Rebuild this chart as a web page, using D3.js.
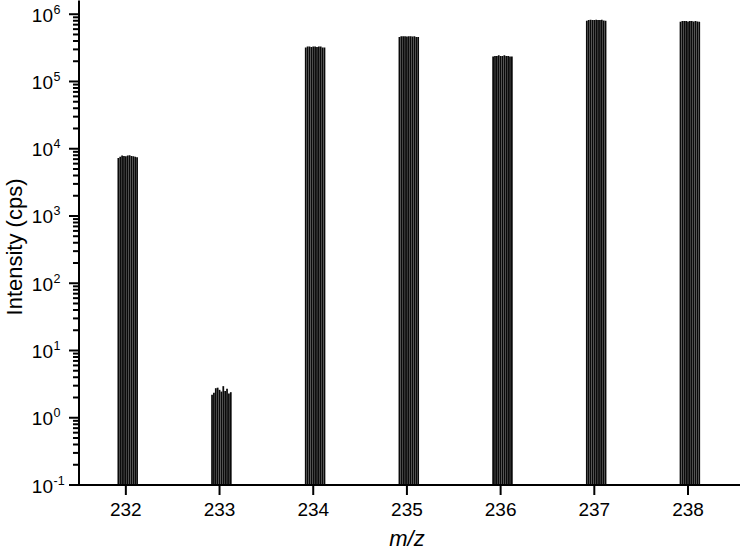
<!DOCTYPE html>
<html>
<head>
<meta charset="utf-8">
<script src="https://cdn.jsdelivr.net/npm/d3@7"></script>
<style>
body { margin: 0; background: #fff; }
svg text { font-family: "Liberation Sans", Arial, sans-serif; fill: #000; }
</style>
</head>
<body>
<svg id="chart" width="740" height="550"></svg>
<script>
// nominal masses of the clusters
var masses = [232, 233, 234, 235, 236, 237, 238];
// m/z offset of each scan line within a cluster
var offsets = [-0.08, -0.06, -0.04, -0.02, 0, 0.02, 0.04, 0.06, 0.08, 0.10, 0.12];
// intensity (cps) of every scan line, one array per mass
var peak232 = [7300, 7600, 7900, 7800, 7700, 7900, 8000, 7800, 7700, 7600, 7500];
var peak233 = [2.2, 2.35, 2.75, 2.8, 2.6, 2.45, 2.95, 2.5, 2.7, 2.3, 2.4];
var peak234 = [3.2e5, 3.3e5, 3.3e5, 3.25e5, 3.3e5, 3.3e5, 3.25e5, 3.3e5, 3.3e5, 3.2e5, 3.2e5];
var peak235 = [4.6e5, 4.7e5, 4.7e5, 4.7e5, 4.65e5, 4.7e5, 4.7e5, 4.65e5, 4.7e5, 4.6e5, 4.6e5];
var peak236 = [2.35e5, 2.4e5, 2.4e5, 2.45e5, 2.4e5, 2.4e5, 2.45e5, 2.4e5, 2.4e5, 2.35e5, 2.35e5];
var peak237 = [8.0e5, 8.2e5, 8.3e5, 8.2e5, 8.2e5, 8.3e5, 8.2e5, 8.2e5, 8.3e5, 8.1e5, 8.0e5];
var peak238 = [7.7e5, 7.9e5, 7.9e5, 7.9e5, 7.8e5, 7.9e5, 7.9e5, 7.8e5, 7.9e5, 7.8e5, 7.7e5];
var peaks = [peak232, peak233, peak234, peak235, peak236, peak237, peak238];
var yExponents = [-1, 0, 1, 2, 3, 4, 5, 6];

var svg = d3.select('#chart');
var plotLeft = 79, plotBottom = 485, plotRight = 740, plotTop = 0.5;

var x = d3.scaleLinear().domain([231.5, 238.555]).range([plotLeft, plotRight]);
var y = d3.scaleLog().domain([0.1, 1.6e6]).range([plotBottom, plotTop]);

// scan lines
var lines = [];
peaks.forEach(function(p, i){
	p.forEach(function(v, j){
		lines.push({mz: masses[i] + offsets[j], val: v});
	});
});

svg.append('g').selectAll('line').data(lines).enter().append('line')
	.attr('x1', function(d){ return x(d.mz); })
	.attr('x2', function(d){ return x(d.mz); })
	.attr('y1', y(0.1))
	.attr('y2', function(d){ return y(d.val); })
	.attr('stroke', '#0a0a0a')
	.attr('stroke-width', 1.75);

// y axis, major and minor ticks
var minor = [];
for(var e=-1; e<7; e++){
	for(var k=2; k<10; k++){
		var v = k*Math.pow(10, e);
		if(v < 1.6e6) minor.push(v);
	}
}
var yAxisG = svg.append('g');
yAxisG.append('line')
	.attr('x1', plotLeft).attr('x2', plotLeft)
	.attr('y1', plotTop).attr('y2', plotBottom + 1)
	.attr('stroke', '#000').attr('stroke-width', 2);
yAxisG.selectAll('line.minor').data(minor).enter().append('line')
	.attr('class', 'minor')
	.attr('x1', plotLeft - 6).attr('x2', plotLeft)
	.attr('y1', function(d){ return y(d); })
	.attr('y2', function(d){ return y(d); })
	.attr('stroke', '#000').attr('stroke-width', 2);
yAxisG.selectAll('line.major').data(yExponents).enter().append('line')
	.attr('class', 'major')
	.attr('x1', plotLeft - 10).attr('x2', plotLeft)
	.attr('y1', function(d){ return y(Math.pow(10, d)); })
	.attr('y2', function(d){ return y(Math.pow(10, d)); })
	.attr('stroke', '#000').attr('stroke-width', 2);
yAxisG.selectAll('text.base').data(yExponents).enter().append('text')
	.attr('class', 'base')
	.attr('x', 53)
	.attr('y', function(d){ return y(Math.pow(10, d)) + 7.5; })
	.attr('text-anchor', 'end')
	.style('font-size', '19px')
	.text('10');
yAxisG.selectAll('text.exp').data(yExponents).enter().append('text')
	.attr('class', 'exp')
	.attr('x', 53.5)
	.attr('y', function(d){ return y(Math.pow(10, d)) - 0.5; })
	.style('font-size', '12.5px')
	.text(function(d){ return d; });

// x axis
var xAxisG = svg.append('g');
xAxisG.append('line')
	.attr('x1', plotLeft - 10).attr('x2', plotRight)
	.attr('y1', plotBottom).attr('y2', plotBottom)
	.attr('stroke', '#000').attr('stroke-width', 2);
xAxisG.selectAll('line.tick').data(masses).enter().append('line')
	.attr('class', 'tick')
	.attr('x1', function(d){ return x(d); })
	.attr('x2', function(d){ return x(d); })
	.attr('y1', plotBottom).attr('y2', plotBottom + 10)
	.attr('stroke', '#000').attr('stroke-width', 2);
xAxisG.selectAll('text').data(masses).enter().append('text')
	.attr('x', function(d){ return x(d); })
	.attr('y', 516)
	.attr('text-anchor', 'middle')
	.style('font-size', '19px')
	.text(function(d){ return d; });

// axis titles
svg.append('text')
	.attr('transform', 'translate(22,' + 247 + ') rotate(-90)')
	.attr('text-anchor', 'middle')
	.style('font-size', '22px')
	.text('Intensity (cps)');
svg.append('text')
	.attr('x', x(235))
	.attr('y', 546)
	.attr('text-anchor', 'middle')
	.style('font-size', '22px')
	.style('font-style', 'italic')
	.text('m/z');
</script>
</body>
</html>
